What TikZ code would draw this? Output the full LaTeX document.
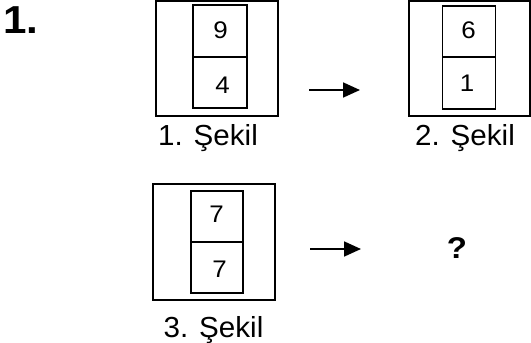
\documentclass[tikz,border=0pt]{standalone}
\usepackage{graphicx}
\usepackage{fontspec}
\setmainfont{Liberation Sans}
\usetikzlibrary{arrows.meta}
\newcommand{\widetext}[2]{\scalebox{#1}[1]{#2}}
\tikzset{
  outerbox/.style={draw, line width=1.5pt, inner sep=0pt},
  cellbox/.style={draw, line width=1.5pt, inner sep=0pt},
  num/.style={anchor=base, inner sep=0pt, font=\fontsize{24}{28}\selectfont},
  figlabel/.style={anchor=base, inner sep=0pt, font=\fontsize{29}{33}\selectfont},
  maparrow/.style={line width=1.8pt, -{Triangle[length=17pt,width=15pt]}}
}
\begin{document}
\begin{tikzpicture}[x=1pt,y=-1pt]
\useasboundingbox (0,0) rectangle (531,343);
% title
\node[anchor=base west, inner sep=0pt, font=\fontsize{39}{44}\selectfont\bfseries] (title) at (3,33) {\widetext{1.08}{1.}};
% figure 1
\node[outerbox, minimum width=122, minimum height=115] (box1) at (217,58.5) {};
\node[cellbox, minimum width=54, minimum height=52] (c1a) at (220,31) {};
\node[cellbox, minimum width=54, minimum height=51] (c1b) at (220,82.5) {};
\node[num] (n1a) at (220.5,38) {\widetext{1.08}{9}};
\node[num] (n1b) at (222.5,93) {\widetext{1.08}{4}};
\node[figlabel] (l1) at (208,145) {\widetext{1.02}{1. Şekil}};
% figure 2
\node[outerbox, minimum width=121, minimum height=115] (box2) at (469.5,58.5) {};
\node[cellbox, minimum width=53, minimum height=51] (c2a) at (469,31.5) {};
\node[cellbox, minimum width=53, minimum height=52] (c2b) at (469,83) {};
\node[num] (n2a) at (468.5,38) {\widetext{1.08}{6}};
\node[num] (n2b) at (467,91) {\widetext{1.08}{1}};
\node[figlabel] (l2) at (465,145) {\widetext{1.02}{2. Şekil}};
% figure 3
\node[outerbox, minimum width=122, minimum height=116] (box3) at (214,242) {};
\node[cellbox, minimum width=52, minimum height=51] (c3a) at (217,216.5) {};
\node[cellbox, minimum width=52, minimum height=51] (c3b) at (217,267.5) {};
\node[num] (n3a) at (216.5,222) {\widetext{1.08}{7}};
\node[num] (n3b) at (219.5,277) {\widetext{1.08}{7}};
\node[figlabel] (l3) at (213.5,337) {\widetext{1.02}{3. Şekil}};
% arrows
\coordinate (a1s) at (309,90);
\coordinate (a1e) at (360,90);
\coordinate (a2s) at (310,249);
\coordinate (a2e) at (361,249);
\draw[maparrow] (a1s) -- (a1e);
\draw[maparrow] (a2s) -- (a2e);
% question mark
\node[anchor=base, inner sep=0pt, font=\fontsize{30}{34}\selectfont\bfseries] (q) at (457,258) {\widetext{1.1}{?}};
\end{tikzpicture}
\end{document}
